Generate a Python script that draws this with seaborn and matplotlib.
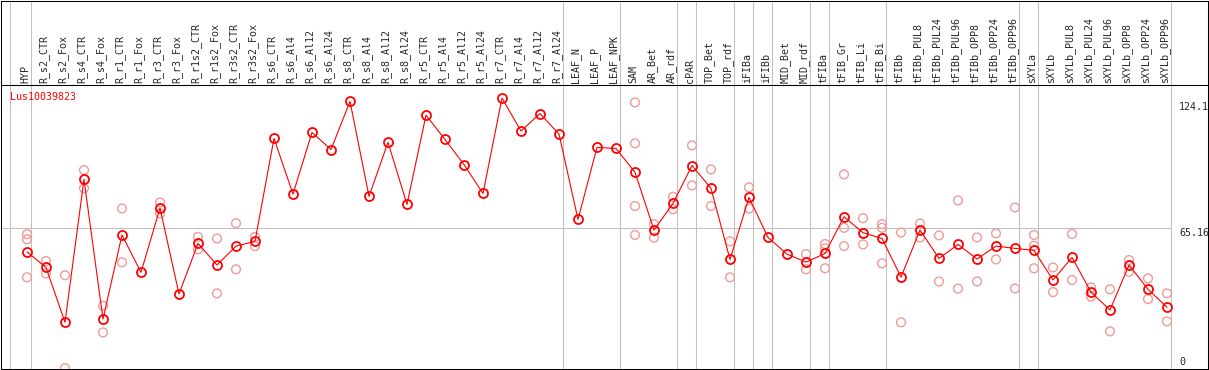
import pandas as pd
import matplotlib
matplotlib.use('Agg')
import matplotlib.pyplot as plt
import seaborn as sns

sns.set_style('white')
plt.rcParams['font.family'] = ['DejaVu Sans Mono']
plt.rcParams['font.size'] = 7.2

gene = 'Lus10039823'

categories = ['HYP', 'R_s2_CTR', 'R_s2_Fox', 'R_s4_CTR', 'R_s4_Fox', 'R_r1_CTR', 'R_r1_Fox',
              'R_r3_CTR', 'R_r3_Fox', 'R_r1s2_CTR', 'R_r1s2_Fox', 'R_r3s2_CTR', 'R_r3s2_Fox',
              'R_s6_CTR', 'R_s6_Al4', 'R_s6_Al12', 'R_s6_Al24', 'R_s8_CTR', 'R_s8_Al4',
              'R_s8_Al12', 'R_s8_Al24', 'R_r5_CTR', 'R_r5_Al4', 'R_r5_Al12', 'R_r5_Al24',
              'R_r7_CTR', 'R_r7_Al4', 'R_r7_Al12', 'R_r7_Al24', 'LEAF_N', 'LEAF_P', 'LEAF_NPK',
              'SAM', 'AR_Bet', 'AR_rdf', 'cPAR', 'TOP_Bet', 'TOP_rdf', 'iFIBa', 'iFIBb',
              'MID_Bet', 'MID_rdf', 'tFIBa', 'tFIB_Gr', 'tFIB_Li', 'tFIB_Bi', 'tFIBb',
              'tFIBb_PUL8', 'tFIBb_PUL24', 'tFIBb_PUL96', 'tFIBb_OPP8', 'tFIBb_OPP24',
              'tFIBb_OPP96', 'sXYLa', 'sXYLb', 'sXYLb_PUL8', 'sXYLb_PUL24', 'sXYLb_PUL96',
              'sXYLb_OPP8', 'sXYLb_OPP24', 'sXYLb_OPP96']

# mean expression per sample (the connected line)
mean_expr = [53.6, 46.0, 19.3, 88.9, 20.9, 61.8, 43.6, 74.9, 33.1, 57.7, 47.2, 56.4, 58.7,
             108.8, 81.7, 111.7, 103.4, 126.8, 80.6, 106.9, 76.7, 120.1, 108.3, 96.1, 82.0,
             128.4, 112.4, 120.9, 110.9, 69.4, 104.4, 103.9,
             92.3, 64.2, 77.2, 95.6, 84.5, 49.9, 80.1, 60.6, 52.5, 48.6,
             52.8, 70.7, 62.9, 60.1, 41.3, 64.2, 50.4, 57.2, 50.1, 56.4, 55.3,
             54.3, 39.9, 50.9, 34.0, 25.3, 47.2, 35.4, 26.6]

# single replicates (light circles)
replicates = [[62.2, 59.7, 41.2], [49.1, 43.1], [42.2, -3.0], [93.4, 84.5], [27.4, 14.4],
              [74.7, 48.5], [], [77.7, 72.3], [], [60.9, 54.8], [60.1, 33.4], [67.5, 45.1],
              [60.9, 56.4],
              [], [], [], [], [], [], [], [], [], [], [], [], [], [], [], [], [], [], [],
              [126.3, 106.4, 75.9, 61.8], [67.1, 60.5], [80.4, 74.3], [105.4, 85.9],
              [93.7, 75.9], [58.7, 41.2], [85.0, 74.7], [], [], [52.5, 45.1],
              [57.4, 55.3, 45.6], [91.3, 65.3, 56.4], [70.0, 57.2], [67.1, 65.3, 48.0],
              [63.0, 19.3], [67.4, 60.6], [61.6, 39.2], [78.6, 35.7], [60.6, 39.2],
              [62.6, 49.9], [75.2, 35.8],
              [61.8, 56.6, 45.6], [46.0, 34.0], [62.3, 39.9], [36.3, 31.8], [35.4, 14.9],
              [49.6, 43.9], [40.7, 30.6], [33.4, 19.8]]

# groups end after these samples
group_ends = [0, 28, 31, 34, 35, 37, 38, 39, 41, 42, 45, 52, 53, 60]
y_marks = [124.1, 65.16, 0]

df = pd.DataFrame({'pos': range(len(categories)), 'expr': mean_expr})
rep_df = pd.DataFrame([(i, v) for i, vals in enumerate(replicates) for v in vals],
                      columns=['pos', 'expr'])

# pixel layout: sample i sits at x = 27 + 19*i px, value v at y = 362 - 2.055*v px
W, H = 1209, 370
xl = (1 - 27) / 19
xr = (1208 - 27) / 19
sep = [-17 / 19] + [g + 4 / 19 for g in group_ends]
grey = '#c0c0c0'

fig = plt.figure(figsize=(W / 100, H / 100), dpi=100)
ax = fig.add_axes([1 / W, 1 / H, 1207 / W, 284 / H])
ax_h = fig.add_axes([1 / W, 285 / H, 1207 / W, 84.5 / H])

for a in (ax, ax_h):
    a.set_xlim(xl, xr)
    a.set_xticks([])
    a.set_yticks([])
    a.set_facecolor('none')
    for s in a.spines.values():
        s.set_color('black')
        s.set_linewidth(0.75)
    for x in sep:
        a.axvline(x, color=grey, lw=0.75, zorder=0)

ax.set_ylim((362 - 369) / 2.055, (362 - 85) / 2.055)
ax.hlines(65.16, xl, sep[-1], color=grey, lw=0.75, zorder=0)

sns.scatterplot(data=rep_df, x='pos', y='expr', ax=ax, marker='o', s=40,
                facecolor='none', edgecolor='#f09a9a', linewidth=1.0, zorder=2,
                clip_on=True)
sns.lineplot(data=df, x='pos', y='expr', ax=ax, color='red', lw=0.8, marker='o',
             markersize=6.5, markerfacecolor='none', markeredgecolor='red',
             markeredgewidth=1.3, zorder=3)
ax.set_xlabel('')
ax.set_ylabel('')

ax.text(-17 / 19, 129, gene, color='red', ha='left', va='center')
for v in y_marks:
    ax.text(60.63, v, str(v), ha='left', va='top' if v == 65.16 else 'center')

ax_h.set_ylim(85, 0)
for i, c in enumerate(categories):
    ax_h.text(i - 2 / 19, 83, c, rotation=90, ha='center', va='bottom')

fig.savefig('out.png', dpi=100)
